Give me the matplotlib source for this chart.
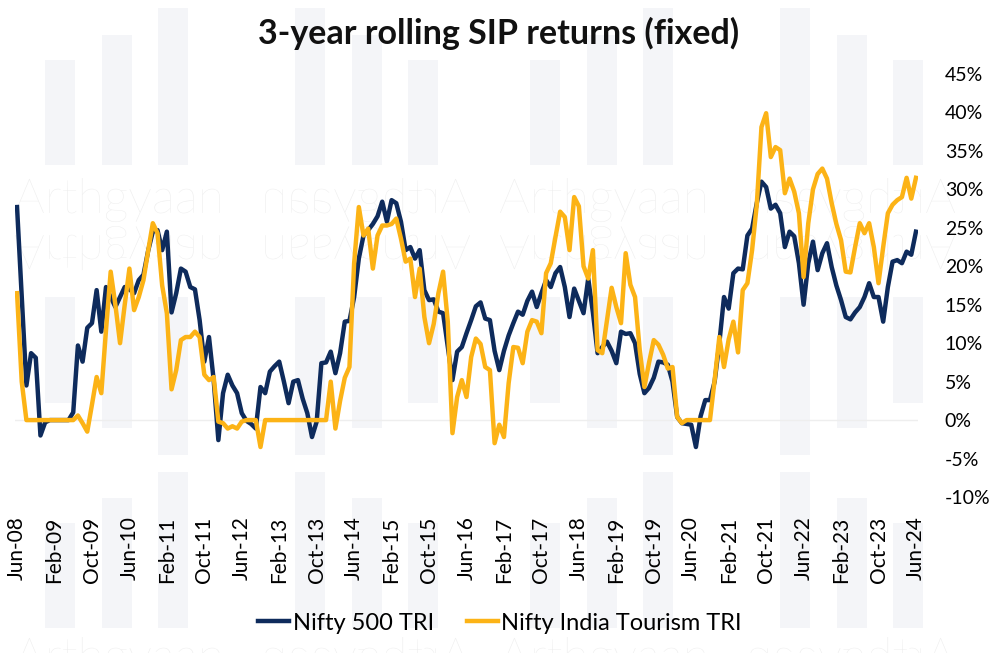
# 3-year rolling SIP returns: Nifty 500 TRI vs Nifty India Tourism TRI
import numpy as np
from matplotlib import pyplot as plt
from matplotlib.textpath import TextPath
from matplotlib.patches import PathPatch, Rectangle
from matplotlib.font_manager import FontProperties
import matplotlib.transforms as mtransforms

######################
# data (monthly, Jun-08 .. Jun-24)

nifty500 = [
    27.7, 16.0, 4.5, 8.7, 8.1, -2.0, -0.3, 0.0, 0.0, 0.0,
    0.0, 0.0, 1.0, 9.7, 7.6, 12.0, 12.6, 16.9, 11.5, 17.3,
    16.0, 14.7, 16.0, 17.3, 17.0, 16.5, 18.2, 18.9, 22.0, 24.5,
    24.7, 22.1, 24.5, 14.0, 16.5, 19.7, 19.3, 17.3, 17.0, 13.0,
    7.6, 10.8, 5.2, -2.6, 3.5, 5.9, 4.5, 3.5, 0.9, -0.1,
    -0.5, -1.1, 4.3, 3.5, 6.3, 7.0, 7.6, 5.0, 2.2, 5.0,
    5.2, 2.8, 0.9, -2.2, -0.2, 7.4, 7.5, 8.9, 6.1, 8.7,
    12.8, 12.9, 16.0, 21.0, 24.0, 24.7, 25.5, 26.5, 28.4, 25.8,
    28.6, 28.2, 25.8, 22.1, 22.5, 21.0, 22.1, 16.9, 15.6, 15.7,
    14.1, 13.9, 9.5, 5.2, 8.9, 9.5, 11.3, 13.0, 14.8, 15.3,
    13.2, 13.0, 9.0, 6.5, 9.0, 11.0, 12.6, 14.1, 13.7, 15.5,
    16.7, 14.7, 16.5, 18.2, 17.3, 19.1, 19.9, 17.3, 13.4, 17.1,
    15.5, 13.9, 18.4, 14.0, 8.7, 9.5, 10.2, 9.0, 7.4, 11.5,
    11.2, 11.3, 10.0, 6.0, 3.5, 4.2, 5.5, 7.6, 7.5, 7.2,
    5.0, 0.4, -0.4, -0.5, -0.6, -3.5, 0.5, 2.6, 2.6, 5.0,
    10.0, 16.0, 14.5, 19.1, 19.7, 19.6, 24.0, 24.9, 28.2, 31.0,
    30.3, 27.5, 28.0, 26.9, 22.5, 24.5, 23.9, 20.4, 15.0, 20.4,
    23.2, 19.5, 21.7, 23.0, 19.9, 17.5, 15.6, 13.4, 13.1, 14.0,
    14.7, 16.0, 17.8, 16.0, 16.0, 12.8, 17.3, 20.6, 20.8, 20.4,
    21.9, 21.5, 24.5,
]

tourism = [
    16.5, 5.0, 0.0, 0.0, 0.0, 0.0, 0.0, 0.0, 0.0, 0.0,
    0.0, 0.0, 0.0, 0.6, -0.4, -1.5, 2.0, 5.6, 3.5, 11.7,
    19.3, 15.0, 10.0, 15.0, 19.7, 14.3, 16.0, 18.2, 22.0, 25.6,
    24.3, 17.5, 13.9, 4.0, 6.5, 10.4, 10.8, 10.8, 11.5, 10.8,
    5.9, 5.2, 5.6, -0.2, -0.4, -1.1, -0.8, -1.1, -0.2, 0.0,
    0.0, 0.0, -3.5, 0.0, 0.0, 0.0, 0.0, 0.0, 0.0, 0.0,
    0.0, 0.0, 0.0, 0.0, 0.0, 0.0, 0.0, 5.0, -1.1, 2.5,
    5.5, 6.9, 20.4, 27.7, 24.0, 24.9, 19.7, 24.0, 25.3, 25.3,
    25.5, 26.2, 23.6, 20.6, 21.0, 16.0, 19.7, 13.4, 10.0, 12.5,
    16.5, 19.3, 12.8, -1.7, 3.0, 5.2, 3.0, 8.2, 10.6, 9.9,
    6.9, 6.5, -3.0, -0.6, -2.2, 4.8, 9.5, 9.4, 7.4, 11.5,
    13.0, 12.8, 11.3, 19.1, 20.4, 23.8, 27.1, 26.4, 22.1, 29.0,
    27.8, 20.0, 18.4, 22.1, 9.1, 8.7, 13.0, 17.2, 14.7, 12.6,
    21.7, 17.6, 16.0, 9.1, 4.3, 7.5, 10.4, 9.8, 8.5, 6.7,
    6.9, 0.4, -0.4, 0.0, 0.0, 0.0, 0.0, 0.0, 0.0, 5.2,
    10.8, 6.9, 10.5, 12.8, 8.8, 16.9, 17.8, 22.1, 28.0, 38.1,
    39.9, 34.2, 35.5, 35.1, 29.5, 31.4, 29.7, 26.9, 18.6, 25.6,
    30.0, 32.0, 32.7, 31.4, 28.2, 25.5, 23.4, 19.3, 19.2, 22.5,
    25.6, 24.3, 25.6, 22.5, 17.8, 22.5, 26.9, 28.0, 28.6, 29.0,
    31.5, 28.8, 31.5,
]

tick_labels = ['Jun-08', 'Feb-09', 'Oct-09', 'Jun-10', 'Feb-11', 'Oct-11',
               'Jun-12', 'Feb-13', 'Oct-13', 'Jun-14', 'Feb-15', 'Oct-15',
               'Jun-16', 'Feb-17', 'Oct-17', 'Jun-18', 'Feb-19', 'Oct-19',
               'Jun-20', 'Feb-21', 'Oct-21', 'Jun-22', 'Feb-23', 'Oct-23',
               'Jun-24']
y_ticks = [-10, -5, 0, 5, 10, 15, 20, 25, 30, 35, 40, 45]
series_names = ['Nifty 500 TRI', 'Nifty India Tourism TRI']
title = '3-year rolling SIP returns (fixed)'
######################

NAVY = '#0e2b5c'
GOLD = '#fcb316'
FONT = 'Lato'
W, H = 998, 653

plt.rcParams['font.family'] = [FONT, 'DejaVu Sans']
fig = plt.figure(figsize=(W / 100, H / 100), dpi=100)
fig.patch.set_facecolor('white')

# ---- watermark background (pixel coords, y down)
bg = fig.add_axes([0, 0, 1, 1], zorder=0)
bg.set_xlim(0, W)
bg.set_ylim(H, 0)
bg.axis('off')

BAR_C = '#f4f5f8'
period = 485
bar_x = [45, 102, 158, 295, 352, 408]
top_tops = [60, 35, 8, 8, 35, 60]
mid_bottoms = [403, 428, 455, 455, 428, 403]
low_tops = [523, 498, 472, 472, 498, 523]
for k in range(2):
    for bx, t1, b2, t3 in zip(bar_x, top_tops, mid_bottoms, low_tops):
        x0 = bx + k * period
        bg.add_patch(Rectangle((x0, t1), 30, 165 - t1, color=BAR_C, lw=0))
        bg.add_patch(Rectangle((x0, 297), 30, b2 - 297, color=BAR_C, lw=0))
        bg.add_patch(Rectangle((x0, t3), 30, 628 - t3, color=BAR_C, lw=0))

tp = TextPath((0, 0), 'Arthgyaan', size=40, prop=FontProperties(family=FONT, weight='light'))
ext = tp.get_extents()
s = 205 / ext.width
txt_h = ext.height * s
asc = ext.y1 * s


def mark(x0, ytop, flip_x=False, flip_y=False):
    sx = -s if flip_x else s
    sy = s if flip_y else -s
    tr = mtransforms.Affine2D().translate(-ext.x0, 0).scale(sx, sy)
    ox = x0 + (205 if flip_x else 0)
    oy = ytop + (txt_h - asc if flip_y else asc)
    tr = tr.translate(ox, oy)
    bg.add_patch(PathPatch(tr.transform_path(tp), color='#ededed', lw=0))


for k in range(2):
    x = 15 + k * period
    mark(x, 178)
    mark(x + 250, 178, flip_x=True)
    mark(x, 178 + txt_h + 4, flip_y=True)
    mark(x + 250, 178 + txt_h + 4, flip_x=True, flip_y=True)
    mark(x, 637)
    mark(x + 250, 637, flip_x=True)

# ---- main chart
ax = fig.add_axes([14.7 / W, 1 - 497 / H, 903.6 / W, 423 / H], zorder=1)
ax.patch.set_alpha(0)
months = np.arange(len(nifty500))
ax.axhline(0, color='#eeeeee', lw=1, zorder=0)
ax.plot(months, nifty500, color=NAVY, lw=3.2, label=series_names[0],
        solid_joinstyle='round')
ax.plot(months, tourism, color=GOLD, lw=3.2, label=series_names[1],
        solid_joinstyle='round')

ax.set_xlim(-0.5, len(nifty500) - 0.5)
ax.set_ylim(-10, 45)
for sp in ax.spines.values():
    sp.set_visible(False)

ax.set_xticks(np.arange(0, len(nifty500), 8))
ax.set_xticklabels(tick_labels, rotation=90, fontsize=15, va='top', ha='center')
ax.tick_params(axis='x', length=0, pad=14)

ax.yaxis.tick_right()
ax.set_yticks(y_ticks)
ax.set_yticklabels(['%d%%' % v for v in y_ticks], fontsize=14, ha='left')
ax.tick_params(axis='y', length=0, pad=19)

fig.text(0.5, 1 - 33 / H, title, ha='center', va='center', fontsize=24.5,
         fontweight='bold', color='#111111')

fig.legend(loc='center', bbox_to_anchor=(500 / W, 1 - 623 / H), ncol=2,
           frameon=False, fontsize=17, handlelength=1.3, handletextpad=0.15,
           columnspacing=1.4)

fig.savefig('out.png', dpi=100)
